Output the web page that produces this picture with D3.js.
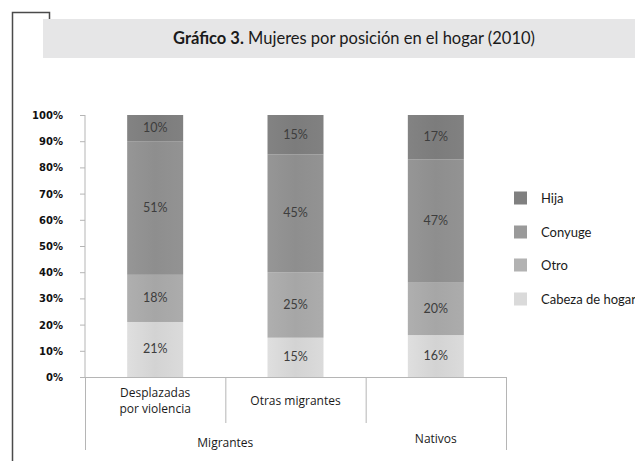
<!DOCTYPE html>
<html>
<head>
<meta charset="utf-8">
<script src="https://cdn.jsdelivr.net/npm/d3@7"></script>
<style>
  body { margin: 0; background: #fff; }
  svg { display: block; }
</style>
</head>
<body>
<svg width="635" height="461"></svg>
<script>
// Categories (inner level) and their groups (outer level)
const categories = [["Desplazadas", "por violencia"], ["Otras migrantes"], [""]];
const groups = ["Migrantes", "Nativos"];
const groupSpans = [2, 1];

// Series, bottom to top of each bar
const seriesNames = ["Cabeza de hogar", "Otro", "Conyuge", "Hija"];
const cabeza = [21, 15, 16];
const otro = [18, 25, 20];
const conyuge = [51, 45, 47];
const hija = [10, 15, 17];
const yTicks = [0, 10, 20, 30, 40, 50, 60, 70, 80, 90, 100];

const colors = ["#d3d3d3", "#a6a6a6", "#8e8e8e", "#7c7c7c"];
const legendColors = ["#dadada", "#b2b2b2", "#9a9a9a", "#808080"];

const svg = d3.select("svg");

// Frame corner and title box
svg.append("path")
  .attr("d", "M12.5,461 V12.5 H49.5 V20")
  .attr("fill", "none")
  .attr("stroke", "#4a4a4a")
  .attr("stroke-width", 1.5);

svg.append("rect")
  .attr("x", 43).attr("y", 19)
  .attr("width", 592).attr("height", 39)
  .attr("fill", "#e6e6e7");

const title = svg.append("text")
  .attr("x", 354).attr("y", 44)
  .attr("text-anchor", "middle")
  .style("font-family", "Lato, 'Open Sans', sans-serif")
  .style("font-size", "16.5px")
  .attr("fill", "#1a1a1a");
title.append("tspan").style("font-weight", "bold").text("Gráfico 3.");
title.append("tspan").text(" Mujeres por posición en el hogar (2010)");

// Scales
const x = d3.scaleBand().domain(d3.range(categories.length)).range([85, 506]);
const y = d3.scaleLinear().domain([0, 100]).range([377, 115]);
const barW = 56;

// Gradient to mimic the shaded bars
const defs = svg.append("defs");
colors.forEach(function (c, i) {
  const g = defs.append("linearGradient").attr("id", "grad-" + i)
    .attr("x1", "0").attr("x2", "1").attr("y1", "0").attr("y2", "0");
  g.append("stop").attr("offset", "0%").attr("stop-color", d3.color(c).brighter(0.15));
  g.append("stop").attr("offset", "50%").attr("stop-color", c);
  g.append("stop").attr("offset", "100%").attr("stop-color", d3.color(c).brighter(0.1));
});

// Stack
const rows = categories.map(function (c, i) {
  return { i: i, cabeza: cabeza[i], otro: otro[i], conyuge: conyuge[i], hija: hija[i] };
});
const keys = ["cabeza", "otro", "conyuge", "hija"];
const stacked = d3.stack().keys(keys)(rows);

// Y axis
svg.append("line")
  .attr("x1", 85).attr("x2", 85)
  .attr("y1", y(100)).attr("y2", y(0))
  .attr("stroke", "#b5b5b5");
svg.append("g")
  .selectAll("line")
  .data(yTicks)
  .enter()
  .append("line")
  .attr("x1", 80).attr("x2", 85)
  .attr("y1", function (d) { return y(d) + 0.5; })
  .attr("y2", function (d) { return y(d) + 0.5; })
  .attr("stroke", "#b5b5b5");
svg.append("g")
  .selectAll("text")
  .data(yTicks)
  .enter()
  .append("text")
  .attr("x", 63)
  .attr("y", function (d) { return y(d) + 4; })
  .attr("text-anchor", "end")
  .style("font-family", "'DejaVu Sans', Verdana, sans-serif")
  .style("font-weight", "bold")
  .style("font-size", "10px")
  .attr("fill", "#111")
  .text(function (d) { return d + "%"; });

// Bars
stacked.forEach(function (layer, li) {
  const g = svg.append("g");
  g.selectAll("rect")
    .data(layer)
    .enter()
    .append("rect")
    .attr("x", function (d, i) { return x(i) + x.bandwidth() / 2 - barW / 2; })
    .attr("width", barW)
    .attr("y", function (d) { return y(d[1]); })
    .attr("height", function (d) { return y(d[0]) - y(d[1]); })
    .attr("fill", "url(#grad-" + li + ")");
  g.selectAll("text")
    .data(layer)
    .enter()
    .append("text")
    .attr("x", function (d, i) { return x(i) + x.bandwidth() / 2; })
    .attr("y", function (d) { return (y(d[0]) + y(d[1])) / 2 + 4; })
    .attr("text-anchor", "middle")
    .style("font-family", "Lato, 'Open Sans', sans-serif")
    .style("font-size", "12.5px")
    .attr("fill", "#3d3d3d")
    .text(function (d) { return (d[1] - d[0]) + "%"; });
});

// X axis with two-level categories
svg.append("line")
  .attr("x1", 80).attr("x2", 506)
  .attr("y1", 377.5).attr("y2", 377.5)
  .attr("stroke", "#b5b5b5");

const bounds = d3.range(categories.length + 1).map(function (i) {
  return i < categories.length ? x(i) : x(categories.length - 1) + x.bandwidth();
});
svg.append("g")
  .selectAll("line")
  .data(bounds)
  .enter()
  .append("line")
  .attr("x1", function (d) { return d + 0.5; })
  .attr("x2", function (d) { return d + 0.5; })
  .attr("y1", 377)
  .attr("y2", function (d, i) { return i === 0 || i === bounds.length - 1 ? 450 : 423; })
  .attr("stroke", "#b5b5b5");

const catFont = "'Open Sans', 'Noto Sans', sans-serif";
categories.forEach(function (lines, i) {
  const cx = x(i) + x.bandwidth() / 2;
  const y0 = lines.length > 1 ? 397 : 405;
  lines.forEach(function (t, k) {
    svg.append("text")
      .attr("x", cx).attr("y", y0 + k * 16)
      .attr("text-anchor", "middle")
      .style("font-family", catFont)
      .style("font-size", "12px")
      .attr("fill", "#1a1a1a")
      .text(t);
  });
});

let start = 0;
groups.forEach(function (gname, gi) {
  const end = start + groupSpans[gi];
  const cx = (x(start) + x(end - 1) + x.bandwidth()) / 2;
  svg.append("text")
    .attr("x", cx).attr("y", gi === 0 ? 447 : 443)
    .attr("text-anchor", "middle")
    .style("font-family", catFont)
    .style("font-size", "12px")
    .attr("fill", "#1a1a1a")
    .text(gname);
  start = end;
});

// Legend (top to bottom: Hija, Conyuge, Otro, Cabeza de hogar)
const legendOrder = [3, 2, 1, 0];
const legendY = [198, 232, 265, 299];
const legend = svg.append("g");
legendOrder.forEach(function (si, k) {
  legend.append("rect")
    .attr("x", 514).attr("y", legendY[k] - 6.5)
    .attr("width", 13).attr("height", 13)
    .attr("fill", legendColors[si]);
  legend.append("text")
    .attr("x", 541).attr("y", legendY[k] + 4.5)
    .style("font-family", "Lato, 'Open Sans', sans-serif")
    .style("font-size", "13px")
    .attr("fill", "#1a1a1a")
    .text(seriesNames[si]);
});
</script>
</body>
</html>
